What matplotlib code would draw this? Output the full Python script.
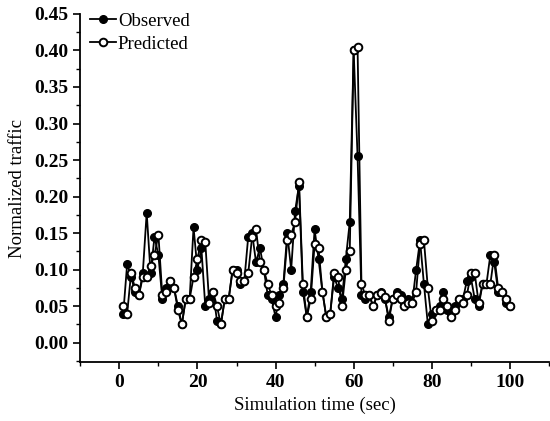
import matplotlib
matplotlib.use("Agg")
import matplotlib.pyplot as plt
from matplotlib.ticker import MultipleLocator

time = list(range(1, 101))
observed = [0.04, 0.108, 0.09, 0.07, 0.065, 0.095, 0.178, 0.095, 0.145, 0.12,
            0.06, 0.075, 0.085, 0.075, 0.05, 0.025, 0.06, 0.06, 0.158, 0.10,
            0.13, 0.05, 0.06, 0.07, 0.03, 0.025, 0.06, 0.06, 0.10, 0.10,
            0.08, 0.085, 0.145, 0.15, 0.11, 0.13, 0.10, 0.065, 0.06, 0.035,
            0.065, 0.08, 0.15, 0.10, 0.18, 0.215, 0.07, 0.035, 0.07, 0.155,
            0.115, 0.07, 0.035, 0.04, 0.09, 0.075, 0.06, 0.115, 0.165, 0.40,
            0.255, 0.065, 0.06, 0.065, 0.05, 0.065, 0.07, 0.06, 0.035, 0.06,
            0.07, 0.065, 0.055, 0.06, 0.055, 0.10, 0.14, 0.08, 0.025, 0.04,
            0.045, 0.05, 0.07, 0.045, 0.04, 0.05, 0.06, 0.06, 0.085, 0.09,
            0.06, 0.05, 0.08, 0.08, 0.12, 0.11, 0.07, 0.07, 0.055, 0.05]
predicted = [0.05, 0.04, 0.095, 0.075, 0.065, 0.09, 0.09, 0.105, 0.12, 0.148,
             0.065, 0.07, 0.085, 0.075, 0.045, 0.025, 0.06, 0.06, 0.09, 0.115,
             0.14, 0.138, 0.055, 0.07, 0.05, 0.025, 0.06, 0.06, 0.10, 0.095,
             0.085, 0.085, 0.095, 0.145, 0.155, 0.11, 0.10, 0.08, 0.065, 0.05,
             0.055, 0.075, 0.14, 0.148, 0.165, 0.22, 0.08, 0.035, 0.06, 0.135,
             0.13, 0.07, 0.035, 0.04, 0.095, 0.09, 0.05, 0.10, 0.125, 0.40,
             0.405, 0.08, 0.065, 0.065, 0.05, 0.065, 0.068, 0.062, 0.03, 0.06,
             0.065, 0.06, 0.05, 0.055, 0.055, 0.07, 0.135, 0.14, 0.075, 0.03,
             0.045, 0.045, 0.06, 0.05, 0.035, 0.045, 0.06, 0.055, 0.065, 0.095,
             0.095, 0.055, 0.08, 0.08, 0.08, 0.12, 0.075, 0.07, 0.06, 0.05]

plt.rcParams['font.family'] = ['Liberation Serif', 'DejaVu Serif']

fig = plt.figure(figsize=(5.5, 4.21), dpi=100)
ax = fig.add_axes([0.146, 0.139, 0.852, 0.828])

ax.plot(time, observed, color='black', lw=1.3, marker='o', ms=5.5,
        mfc='black', mec='black', label='Observed', zorder=2)
ax.plot(time, predicted, color='black', lw=1.3, marker='o', ms=5.5,
        mfc='white', mec='black', mew=1.4, label='Predicted', zorder=3)

ax.set_xlim(-10, 110)
ax.set_ylim(-0.027, 0.45)
ax.xaxis.set_major_locator(MultipleLocator(20))
ax.xaxis.set_minor_locator(MultipleLocator(10))
ax.yaxis.set_major_locator(MultipleLocator(0.05))
ax.yaxis.set_minor_locator(MultipleLocator(0.025))
ax.yaxis.set_major_formatter(matplotlib.ticker.FormatStrFormatter('%.2f'))

for s in ['top', 'right']:
    ax.spines[s].set_visible(False)
for s in ['left', 'bottom']:
    ax.spines[s].set_linewidth(1.3)

ax.tick_params(which='major', direction='out', length=5, width=1.2, labelsize=14)
ax.tick_params(which='minor', direction='out', length=3, width=1.0)
for lbl in ax.get_xticklabels() + ax.get_yticklabels():
    lbl.set_fontweight('bold')

ax.set_xlabel('Simulation time (sec)', fontsize=13.5)
ax.set_ylabel('Normalized traffic', fontsize=13.5, labelpad=6)

ax.legend(loc='upper left', frameon=False, fontsize=13.5, handlelength=1.4,
          handletextpad=0.1, borderaxespad=0.1, labelspacing=0.3,
          bbox_to_anchor=(0.0, 1.03))

fig.savefig('out.png', dpi=100)
